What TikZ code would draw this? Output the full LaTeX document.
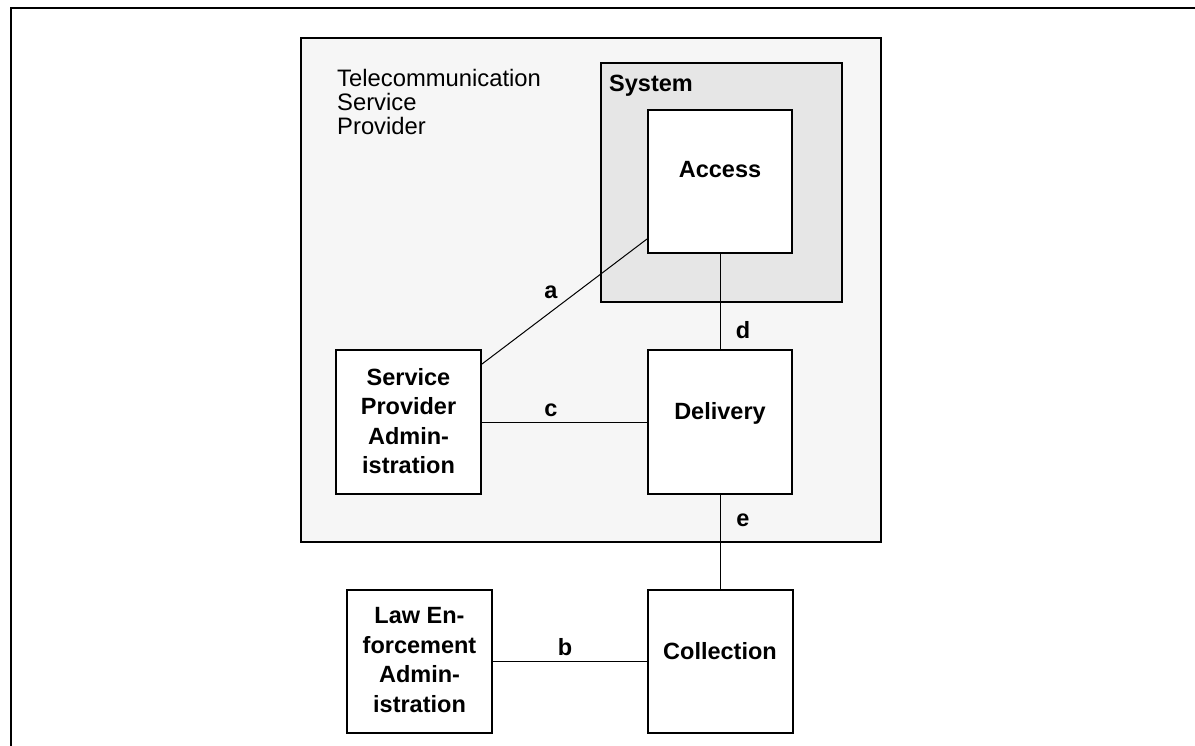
\documentclass[tikz,border=0pt]{standalone}
\usepackage{fontspec}
\setmainfont{Liberation Sans}
\definecolor{tspfill}{HTML}{F6F6F6}
\definecolor{sysfill}{HTML}{E6E6E6}
\begin{document}
\begin{tikzpicture}[x=1pt,y=-1pt,
  box/.style={draw,line width=2pt,fill=white,inner sep=0pt,rectangle},
  boxlbl/.style={font=\fontsize{23.5}{29.5}\selectfont\bfseries,align=center,inner sep=0pt},
  conn/.style={line width=1pt},
  connlbl/.style={font=\fontsize{23.5}{27}\selectfont\bfseries,inner sep=0pt}]
\useasboundingbox (0,0) rectangle (1195,745);
% outer frame
\draw[line width=2.5pt] (11,746) -- (11,8) -- (1196,8);
% provider and system areas
\node[box,fill=tspfill,minimum width=580pt,minimum height=504pt,anchor=north west] (tsp) at (300,37) {};
\node[anchor=base west,inner sep=0pt,align=left,font=\fontsize{23.8}{24.2}\selectfont] (tsplbl) at (337,86) {Telecommunication};
\node[anchor=base west,inner sep=0pt,align=left,font=\fontsize{23.8}{24.2}\selectfont] (tsplbl2) at (337,110) {Service};
\node[anchor=base west,inner sep=0pt,align=left,font=\fontsize{23.8}{24.2}\selectfont] (tsplbl3) at (337,134) {Provider};
\node[box,fill=sysfill,minimum width=241pt,minimum height=239pt,anchor=north west] (sys) at (600,62) {};
\node[anchor=base west,inner sep=0pt,font=\fontsize{23.5}{27}\selectfont\bfseries] (syslbl) at (609,91) {System};
% boxes
\node[box,minimum width=144pt,minimum height=143pt] (access) at (720,181.5) {};
\node[boxlbl] (accesslbl) at (720,170) {Access};
\node[box,minimum width=144pt,minimum height=144pt] (delivery) at (720,422) {};
\node[boxlbl] (deliverylbl) at (720,413.5) {Delivery};
\node[box,minimum width=145pt,minimum height=144pt] (spa) at (408.5,422) {};
\node[boxlbl] (spalbl) at (408.5,421) {Service\\Provider\\Admin-\\istration};
\node[box,minimum width=145pt,minimum height=143pt] (lea) at (419.5,661.5) {};
\node[boxlbl] (lealbl) at (419.5,660) {Law En-\\forcement\\Admin-\\istration};
\node[box,minimum width=145pt,minimum height=143pt] (coll) at (720,661.5) {};
\node[boxlbl] (colllbl) at (720,651) {Collection};
% connectors
\draw[conn] ([yshift=15pt]access.south west) -- ([yshift=-15pt]spa.north east);
\draw[conn] (access.south) -- (delivery.north);
\draw[conn] (spa.east) -- (delivery.west);
\draw[conn] (delivery.south) -- (coll.north);
\draw[conn] (lea.east) -- (coll.west);
% connector labels
\node[connlbl] (la) at (551,292) {a};
\node[connlbl] (lc) at (551,410) {c};
\node[connlbl] (ld) at (743,330) {d};
\node[connlbl] (le) at (743,520) {e};
\node[connlbl] (lb) at (565,647) {b};
\end{tikzpicture}
\end{document}
